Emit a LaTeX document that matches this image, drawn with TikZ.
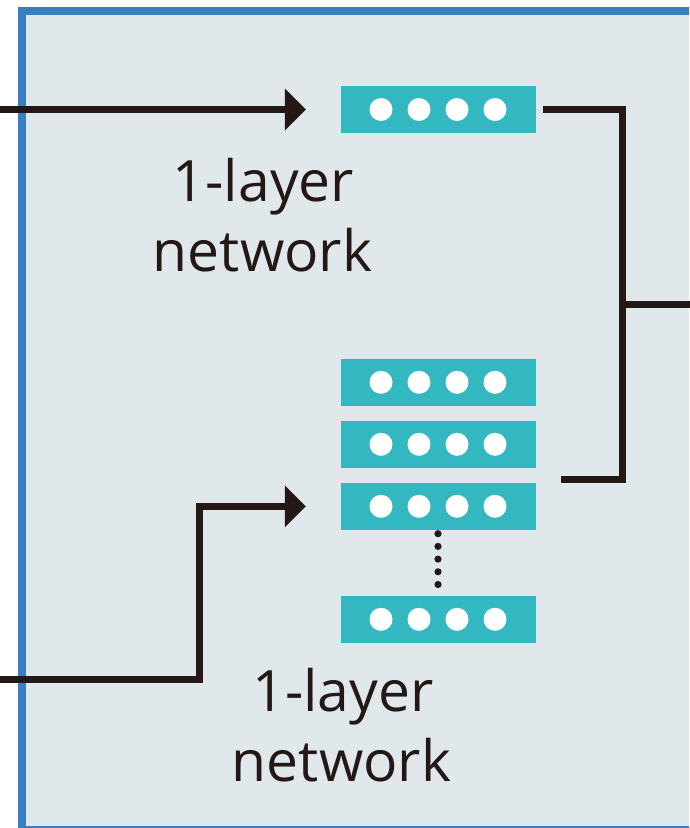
\documentclass[tikz,border=0pt]{standalone}
\usepackage{fontspec}
\setmainfont{Open Sans}
\usetikzlibrary{arrows.meta}
\definecolor{panelbg}{HTML}{E1E8EC}
\definecolor{panelborder}{HTML}{3A7FC2}
\definecolor{layerteal}{HTML}{33B7C1}
\definecolor{ink}{HTML}{231815}
\begin{document}
\begin{tikzpicture}[x=1pt,y=-1pt,
  layerbox/.style={rectangle, fill=layerteal, minimum width=195pt, minimum height=47pt, inner sep=0pt},
  wire/.style={draw=ink, line width=7pt},
  arrowwire/.style={wire, -{Triangle[length=21pt,width=42pt,line width=0pt]}},
  lab/.style={text=ink, font=\fontsize{57}{70}\selectfont, anchor=base, inner sep=0pt}
]
\useasboundingbox (0,0) rectangle (689,828);
\begin{scope}
  \clip (0,0) rectangle (689,828);
  \draw[fill=panelbg, draw=panelborder, line width=8pt] (22,10.5) rectangle (720,829.5);
\end{scope}

% layer boxes
\node[layerbox] (top) at (438.5,109.5) {};
\node[layerbox] (b1) at (438.5,382.3) {};
\node[layerbox] (b2) at (438.5,444.3) {};
\node[layerbox] (b3) at (438.5,506.3) {};
\node[layerbox] (b4) at (438.5,619.3) {};
\foreach \n in {top,b1,b2,b3,b4}
  \foreach \dx in {-57.5,-19.5,18.5,56.5}
    \fill[white] ([xshift=\dx pt]\n.center) circle[radius=11.5pt];

% vertical ellipsis
\foreach \yy in {533.7,546.4,559.1,571.8,584.5}
  \fill[ink] (438,\yy) circle[radius=3.6pt];

% inputs
\coordinate (in1) at (0,109.5);
\coordinate (in2) at (0,679);
\draw[arrowwire] (in1) -- ([xshift=-35pt]top.west);
\draw[arrowwire] (in2) -- (199.7,679) |- ([xshift=-35pt]b3.west);

% outputs
\coordinate (j1) at ([xshift=6.5pt]top.east);
\coordinate (j2) at (561,479);
\coordinate (merge) at (622,304);
\coordinate (out) at (700,304);
\draw[wire] (j1) -| (622,479) -- (j2);
\draw[wire] (merge) -- (out);

% labels
\node[lab] (l1a) at (263.5,201.7) {1-layer};
\node[lab] (l1b) at (262.5,271.7) {network};
\node[lab] (l2a) at (343,711.7) {1-layer};
\node[lab] (l2b) at (341.5,781.7) {network};
\end{tikzpicture}
\end{document}
